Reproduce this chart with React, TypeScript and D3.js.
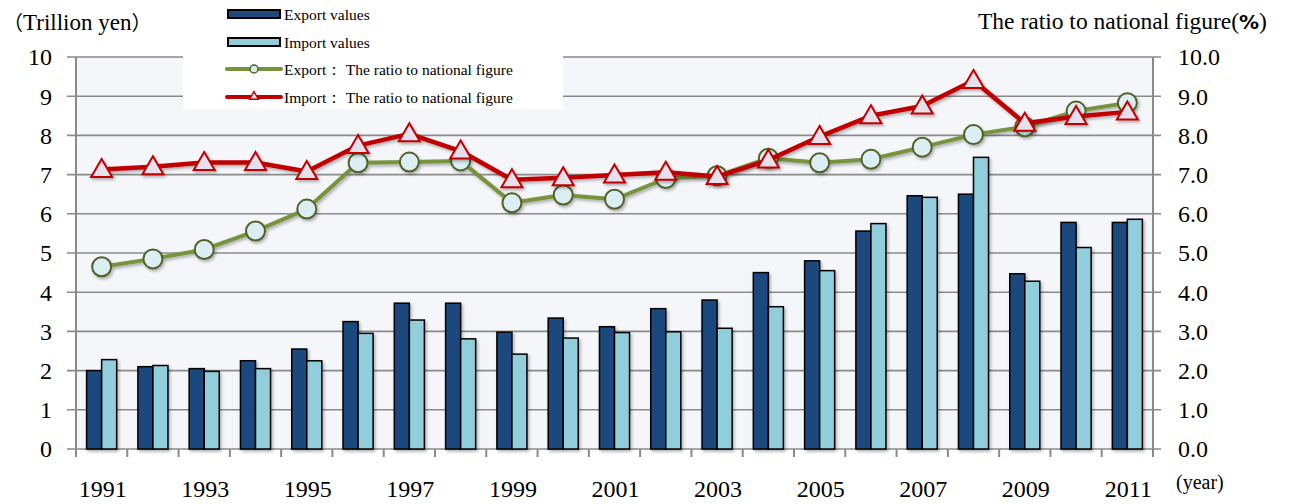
import React from "react";
import * as d3 from "d3";

const years = ["1991","1992","1993","1994","1995","1996","1997","1998","1999","2000","2001","2002","2003","2004","2005","2006","2007","2008","2009","2010","2011"];
const exportValues = [2.0,2.1,2.05,2.25,2.55,3.25,3.72,3.72,2.98,3.34,3.12,3.58,3.8,4.5,4.8,5.56,6.46,6.5,4.47,5.78,5.78];
const importValues = [2.28,2.13,1.98,2.05,2.25,2.95,3.29,2.81,2.42,2.83,2.97,2.99,3.08,3.63,4.55,5.75,6.42,7.44,4.28,5.14,5.86];
const exportRatio = [4.65,4.85,5.09,5.56,6.12,7.3,7.32,7.35,6.28,6.48,6.37,6.9,6.97,7.42,7.3,7.39,7.7,8.02,8.22,8.62,8.83];
const importRatio = [7.13,7.2,7.31,7.31,7.08,7.74,8.04,7.6,6.87,6.92,6.99,7.06,6.95,7.37,7.97,8.5,8.75,9.4,8.31,8.48,8.6];
const leftTicks = [0,1,2,3,4,5,6,7,8,9,10];
const rightTicks = ["0.0","1.0","2.0","3.0","4.0","5.0","6.0","7.0","8.0","9.0","10.0"];
const legendLabels = ["Export values","Import values","Export\uFF1A The ratio to national figure","Import\uFF1A The ratio to national figure"];

const C = {
  exp: "#1f497d",
  imp: "#92cddc",
  green: "#77933c",
  greenStroke: "#4f6228",
  greenFill: "#dbeef3",
  red: "#c00000",
  redFill: "#e6e0ec",
  grid: "#8a8a8a",
  bg: "#f5f6fa",
};

const serif = "'Liberation Serif', 'Times New Roman', serif";

export default function App() {
  const W = 1289, H = 504;
  const left = 76, right = 1153, top = 57, bottom = 449;
  const x = d3.scaleBand<string>().domain(years).range([left, right]).padding(0);
  const y = d3.scaleLinear().domain([0, 10]).range([bottom, top]);
  const yr = d3.scaleLinear().domain([0, 10]).range([bottom, top]);
  const bw = x.bandwidth();
  const barW = bw * 0.293;
  const cx = (i: number) => (x(years[i]) as number) + bw / 2;

  const lineGen = (vals: number[]) =>
    d3.line<number>().x((_, i) => cx(i)).y((v) => yr(v))(vals) || "";

  const tri = (px: number, py: number, s = 10) =>
    `M${px},${py - s * 1.05} L${px + s * 1.05},${py + s * 0.75} L${px - s * 1.05},${py + s * 0.75} Z`;

  return (
    <svg width={W} height={H} style={{ position: "absolute", left: 0, top: 0, background: "#fff" }} fontFamily={serif}>
      <defs>
        <filter id="sh" x="-30%" y="-30%" width="160%" height="160%">
          <feDropShadow dx="1.5" dy="2" stdDeviation="1.5" floodColor="#000" floodOpacity="0.3" />
        </filter>
      </defs>
      <rect x={left} y={top} width={right - left} height={bottom - top} fill={C.bg} />
      {leftTicks.map((t) => (
        <g key={t}>
          <line x1={left - 9} x2={right + 8} y1={y(t)} y2={y(t)} stroke={C.grid} strokeWidth={1.6} />
          <text x={52} y={y(t)} dy="0.35em" textAnchor="end" fontSize={24} fill="#000">{t}</text>
          <text x={1178} y={yr(t)} dy="0.35em" textAnchor="start" fontSize={24} fill="#000">{rightTicks[t]}</text>
        </g>
      ))}
      <line x1={left} x2={left} y1={top} y2={bottom + 8} stroke={C.grid} strokeWidth={2} />
      <line x1={right} x2={right} y1={top} y2={bottom + 8} stroke={C.grid} strokeWidth={2} />
      {years.map((yy) => (
        <line key={yy} x1={(x(yy) as number)} x2={(x(yy) as number)} y1={bottom} y2={bottom + 8} stroke={C.grid} strokeWidth={2} />
      ))}
      {years.map((yy, i) =>
        i % 2 === 0 ? (
          <text key={yy} x={cx(i) + 1} y={497} textAnchor="middle" fontSize={24}>{yy}</text>
        ) : null
      )}
      <g filter="url(#sh)">
        {years.map((yy, i) => (
          <g key={yy}>
            <rect x={cx(i) - barW} y={y(exportValues[i])} width={barW} height={bottom - y(exportValues[i])} fill={C.exp} stroke="#000" strokeWidth={1.5} />
            <rect x={cx(i)} y={y(importValues[i])} width={barW} height={bottom - y(importValues[i])} fill={C.imp} stroke="#000" strokeWidth={1.5} />
          </g>
        ))}
      </g>
      <g filter="url(#sh)">
        <path d={lineGen(exportRatio)} fill="none" stroke={C.green} strokeWidth={4} strokeLinejoin="round" />
        {exportRatio.map((v, i) => (
          <circle key={i} cx={cx(i)} cy={yr(v)} r={9.5} fill={C.greenFill} stroke={C.greenStroke} strokeWidth={2} />
        ))}
      </g>
      <g filter="url(#sh)">
        <path d={lineGen(importRatio)} fill="none" stroke={C.red} strokeWidth={4.5} strokeLinejoin="round" />
        {importRatio.map((v, i) => (
          <path key={i} d={tri(cx(i), yr(v))} fill={C.redFill} stroke={C.red} strokeWidth={2} strokeLinejoin="miter" />
        ))}
      </g>
      {/* legend */}
      <rect x={183} y={0} width={380} height={109} fill="#fff" />
      <rect x={228} y={10} width={52} height={8} fill={C.exp} stroke="#000" strokeWidth={2} />
      <rect x={228} y={38} width={52} height={8} fill={C.imp} stroke="#000" strokeWidth={2} />
      <line x1={227} x2={281} y1={69} y2={69} stroke={C.green} strokeWidth={4} strokeLinecap="round" />
      <circle cx={254} cy={69} r={4} fill={C.greenFill} stroke={C.greenStroke} strokeWidth={1.5} />
      <line x1={227} x2={281} y1={97} y2={97} stroke={C.red} strokeWidth={4} strokeLinecap="round" />
      <path d={tri(254, 96, 4.2)} fill={C.redFill} stroke={C.red} strokeWidth={1.5} />
      {legendLabels.map((l, i) => (
        <text key={l} x={284} y={20 + i * 27.7} fontSize={15.5} fill="#000" style={{ whiteSpace: "pre" }}>{l}</text>
      ))}
      {/* axis titles */}
      <text x={3} y={30} fontSize={23}>
        <tspan fontFamily="'Noto Sans CJK JP', sans-serif" fontSize={20}>{"\uFF08"}</tspan>
        <tspan>Trillion yen</tspan>
        <tspan fontFamily="'Noto Sans CJK JP', sans-serif" fontSize={20}>{"\uFF09"}</tspan>
      </text>
      <text x={978} y={29} fontSize={23.5}>
        <tspan>The ratio to national figure(</tspan>
        <tspan fontFamily="'DejaVu Sans', sans-serif" fontWeight="bold" fontSize={20}>%</tspan>
        <tspan>)</tspan>
      </text>
      <text x={1176} y={489} fontSize={20}>(year)</text>
    </svg>
  );
}
